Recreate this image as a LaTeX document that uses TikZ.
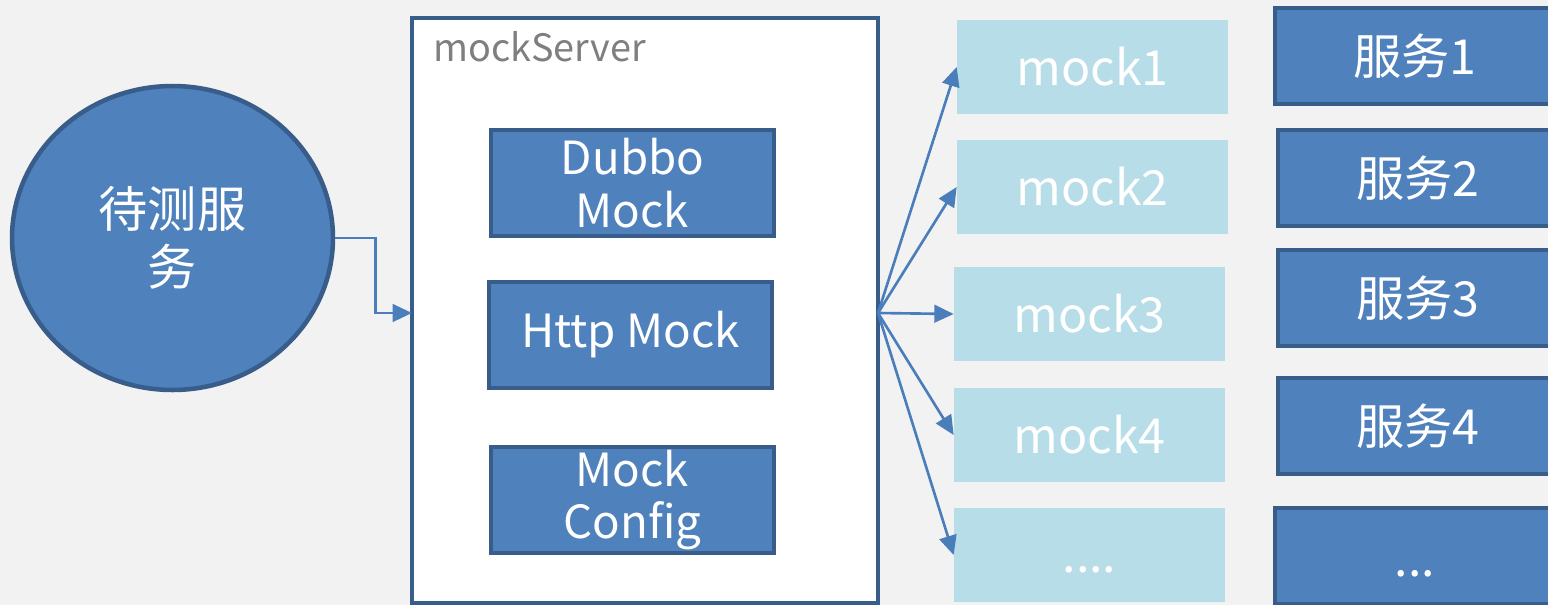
\documentclass[tikz,border=0pt]{standalone}
\usepackage{fontspec}
\setmainfont{Noto Sans CJK SC}
\usetikzlibrary{arrows.meta}
\usetikzlibrary{shapes.geometric}
\definecolor{page grey}{HTML}{F2F2F2}
\definecolor{box blue}{HTML}{4F81BD}
\definecolor{edge blue}{HTML}{385D8A}
\definecolor{line blue}{HTML}{4A7EBB}
\definecolor{mock cyan}{HTML}{B7DDE8}
\definecolor{label grey}{HTML}{7F7F7F}

\begin{document}
\begin{tikzpicture}[x=0.02cm, y=-0.02cm]
            \tikzset{bluebox/.style={draw=edge blue, line width=2pt, fill=box blue, text=white, align=center, inner sep=0pt, minimum width=5.66cm, minimum height=2.12cm, font={\fontsize{26}{30}\selectfont}}}
            \tikzset{svcbox/.style={bluebox, minimum width=5.6cm, minimum height=1.92cm, font={\fontsize{27.5}{32}\selectfont}}}
            \tikzset{mockbox/.style={fill=mock cyan, text=white, inner sep=0pt, minimum width=5.42cm, minimum height=1.88cm, font={\fontsize{27.5}{32}\selectfont}}}
            \tikzset{arrow/.style={line blue, line width=1.5pt, -{Triangle[length=11pt, width=10pt]}}}
            \useasboundingbox[fill=page grey] (0, 0) rectangle (1548, 605);

            \node[ellipse, draw=edge blue, line width=2.6pt, fill=box blue, text=white, minimum width=6.42cm, minimum height=6.08cm, align=center, font={\fontsize{28}{33}\selectfont}] (tested) at (172.5, 238) {待测服\\务};

            \node[draw=edge blue, line width=2.6pt, fill=white, minimum width=9.32cm, minimum height=11.7cm] (server) at (645, 310.5) {};
            \node[anchor=north west, inner sep=0pt, text=label grey, font={\fontsize{21.5}{25}\selectfont}] (servername) at (433, 31) {mockServer};
            \node[bluebox] (dubbo) at (632.5, 183) {Dubbo\\Mock};
            \node[bluebox] (http) at (630.5, 335) {Http Mock};
            \node[bluebox] (config) at (632.5, 500) {Mock\\Config};

            \node[mockbox] (mock1) at (1092.5, 67) {mock1};
            \node[mockbox] (mock2) at (1092.5, 187) {mock2};
            \node[mockbox] (mock3) at (1089.5, 314) {mock3};
            \node[mockbox] (mock4) at (1089.5, 435) {mock4};
            \node[mockbox] (mock5) at (1089.5, 555) {\smash{\raisebox{-0.34cm}{....}}};

            \node[svcbox] (svc1) at (1415, 56) {服务1};
            \node[svcbox] (svc2) at (1418, 178) {服务2};
            \node[svcbox] (svc3) at (1418, 298) {服务3};
            \node[svcbox] (svc4) at (1418, 426) {服务4};
            \node[svcbox] (svc5) at (1415, 556) {\smash{\raisebox{-0.4cm}{...}}};

            \coordinate (serverin) at (412, 313);
            \coordinate (hub) at (878, 313);
            \draw[arrow] (tested.east) -- ++(40, 0) |- (serverin);
            \foreach \m in {1,...,5}
                \draw[arrow] (hub) -- (mock\m.west);
        \end{tikzpicture}
\end{document}
